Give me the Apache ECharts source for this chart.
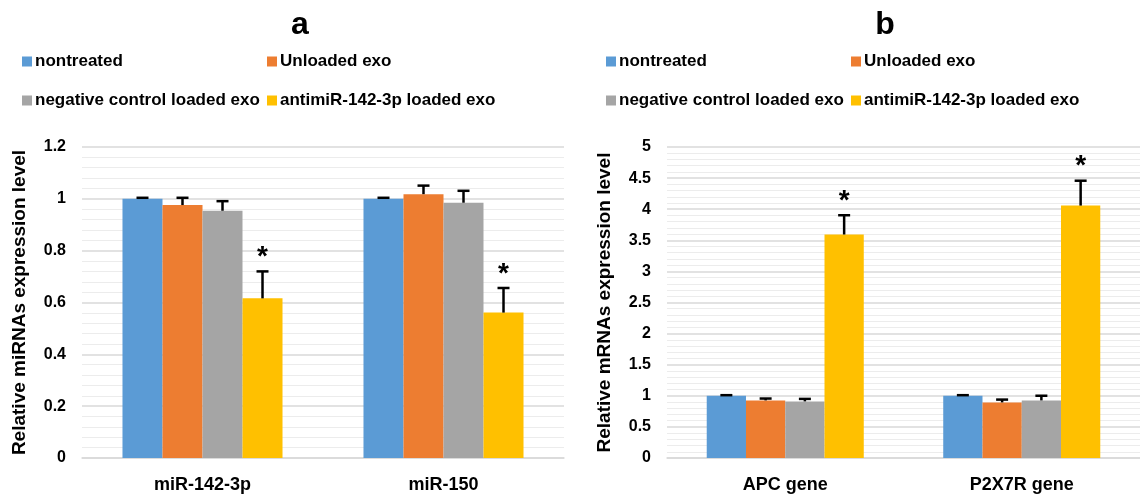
<!DOCTYPE html>
<html>
<head>
<meta charset="utf-8">
<script src="https://cdn.jsdelivr.net/npm/echarts@6/dist/echarts.min.js"></script>
<style>
html,body{margin:0;padding:0;background:#fff;}
#chart{width:1140px;height:494px;}
</style>
</head>
<body>
<div id="chart"></div>
<script>
// ---- data ----
const seriesNames = ['nontreated', 'Unloaded exo', 'negative control loaded exo', 'antimiR-142-3p loaded exo'];
const colors = ['#5B9BD5', '#ED7D31', '#A5A5A5', '#FFC000'];

const categoriesA = ['miR-142-3p', 'miR-150'];
const nontreatedA = [1.0, 1.0];
const unloadedA = [0.976, 1.018];
const negativeA = [0.954, 0.985];
const antimirA = [0.616, 0.561];
const nontreatedErrA = [0.004, 0.004];
const unloadedErrA = [0.028, 0.033];
const negativeErrA = [0.037, 0.046];
const antimirErrA = [0.104, 0.095];
const starsA = [0, 0, 0, 1]; // per series: significance marker

const categoriesB = ['APC gene', 'P2X7R gene'];
const nontreatedB = [1.0, 1.0];
const unloadedB = [0.926, 0.894];
const negativeB = [0.91, 0.926];
const antimirB = [3.593, 4.058];
const nontreatedErrB = [0.01, 0.01];
const unloadedErrB = [0.03, 0.045];
const negativeErrB = [0.04, 0.075];
const antimirErrB = [0.31, 0.40];
const starsB = [0, 0, 0, 1];

const yTitleA = 'Relative miRNAs expression level';
const yTitleB = 'Relative mRNAs expression level';
const panelTitles = ['a', 'b'];

// ---- build ----
const FONT = 'Liberation Sans, Arial, sans-serif';
const CAT_GAP = 0.336;

function makeBars(vals, gi) {
  return vals.map((v, s) => ({
    name: seriesNames[s], type: 'bar', xAxisIndex: gi, yAxisIndex: gi,
    data: v, barGap: 0, barCategoryGap: (CAT_GAP * 100) + '%',
    itemStyle: {color: colors[s]}, silent: true, z: 2
  }));
}
function makeErr(vals, errs, stars, gi) {
  const data = [];
  vals.forEach((arr, s) => arr.forEach((v, i) => data.push([i, s, v, errs[s][i], stars[s]])));
  return {
    type: 'custom', name: 'err' + gi, xAxisIndex: gi, yAxisIndex: gi, z: 5, silent: true,
    encode: {x: 0, y: 2},
    data: data,
    renderItem: function (params, api) {
      const cat = api.value(0), s = api.value(1), v = api.value(2), e = api.value(3), st = api.value(4);
      const catW = api.size([1, 0])[0];
      const bw = catW * (1 - CAT_GAP) / 4;
      const x = api.coord([cat, 0])[0] + (s - 1.5) * bw;
      const yv = api.coord([cat, v])[1];
      const yt = api.coord([cat, v + e])[1];
      const ls = {stroke: '#000', lineWidth: 2.5};
      const children = [
        {type: 'line', shape: {x1: x, y1: yv, x2: x, y2: yt}, style: ls},
        {type: 'line', shape: {x1: x - 6, y1: yt, x2: x + 6, y2: yt}, style: ls}
      ];
      if (st) {
        children.push({type: 'text', style: {text: '*', x: x, y: yt - 14, align: 'center', verticalAlign: 'middle',
          font: 'bold 28px ' + FONT, fill: '#000'}});
      }
      return {type: 'group', children: children};
    }
  };
}

function makeLegends(offsetX) {
  const pos = [[22, 53], [267, 53], [22, 92], [267, 92]];
  return seriesNames.map((n, s) => ({
    data: [n], left: pos[s][0] + offsetX, top: pos[s][1], padding: 0,
    icon: 'rect', itemWidth: 10, itemHeight: 10, itemGap: 0, selectedMode: false,
    textStyle: {fontSize: 17, fontWeight: 'bold', color: '#000', fontFamily: FONT, padding: [0, 0, 0, -2]}
  }));
}

function yAxis(gi, max, interval, name) {
  return {
    gridIndex: gi, type: 'value', min: 0, max: max, interval: interval,
    name: name, nameLocation: 'middle', nameGap: 53,
    nameTextStyle: {fontSize: 19, fontWeight: 'bold', color: '#000', fontFamily: FONT},
    axisLine: {show: false}, axisTick: {show: false},
    axisLabel: {fontSize: 16, fontWeight: 'bold', color: '#000', fontFamily: FONT, margin: 16},
    splitLine: {lineStyle: {color: '#d9d9d9', width: 1.5}},
    minorTick: {show: false, splitNumber: 5},
    minorSplitLine: {show: true, lineStyle: {color: '#ececec', width: 1}}
  };
}
function xAxis(gi, cats) {
  return {
    gridIndex: gi, type: 'category', data: cats,
    axisLine: {lineStyle: {color: '#d9d9d9', width: 1.5}}, axisTick: {show: false},
    axisLabel: {fontSize: 18, fontWeight: 'bold', color: '#000', fontFamily: FONT, margin: 18}
  };
}

const option = {
  animation: false,
  backgroundColor: '#fff',
  title: [
    {text: panelTitles[0], left: 295, top: 4, textAlign: 'center', textStyle: {fontSize: 32, fontWeight: 'bold', color: '#000', fontFamily: FONT}},
    {text: panelTitles[1], left: 880, top: 4, textAlign: 'center', textStyle: {fontSize: 32, fontWeight: 'bold', color: '#000', fontFamily: FONT}}
  ],
  legend: makeLegends(0).concat(makeLegends(584)),
  grid: [
    {left: 82, top: 147, width: 482, height: 315},
    {left: 667, top: 147, width: 482, height: 315}
  ],
  xAxis: [xAxis(0, categoriesA), xAxis(1, categoriesB)],
  yAxis: [yAxis(0, 1.2, 0.2, yTitleA), yAxis(1, 5, 0.5, yTitleB)],
  series: [].concat(
    makeBars([nontreatedA, unloadedA, negativeA, antimirA], 0),
    makeBars([nontreatedB, unloadedB, negativeB, antimirB], 1),
    [makeErr([nontreatedA, unloadedA, negativeA, antimirA], [nontreatedErrA, unloadedErrA, negativeErrA, antimirErrA], starsA, 0),
     makeErr([nontreatedB, unloadedB, negativeB, antimirB], [nontreatedErrB, unloadedErrB, negativeErrB, antimirErrB], starsB, 1)]
  )
};

const chart = echarts.init(document.getElementById('chart'), null, {renderer: 'canvas'});
chart.setOption(option);
</script>
</body>
</html>
